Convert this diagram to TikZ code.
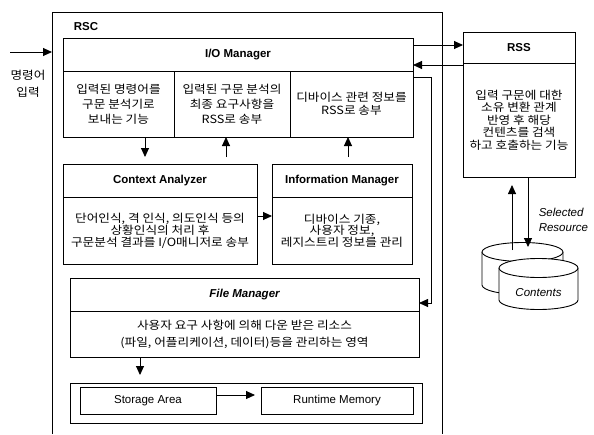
\documentclass[tikz,border=0pt]{standalone}
\usepackage{fontspec}
\setmainfont{Liberation Sans}
\newfontfamily\kor[FakeStretch=1.12]{Noto Sans CJK KR}
\usetikzlibrary{arrows.meta,positioning,calc}
\tikzset{
  hdr/.style={draw, inner sep=0pt, outer sep=0pt, minimum height=33pt, font=\bfseries\fontsize{11.5}{13}\selectfont},
  cell/.style={draw, inner sep=0pt, outer sep=0pt, align=center, font=\kor\fontsize{11.3}{#1}\selectfont},
  cell/.default=15,
  plain/.style={draw, inner sep=0pt, outer sep=0pt, minimum height=27pt, font=\fontsize{11.5}{13}\selectfont},
}

\begin{document}
\begin{tikzpicture}[x=1pt,y=-1pt,line width=0.9pt,>={Triangle[length=9pt,width=8pt]}]
  \useasboundingbox (0,0) rectangle (594,434);
  % RSC frame, open at the bottom
  \coordinate (rscW) at (52,12);
  \coordinate (rscE) at (442,12);
  \draw (rscW |- 0,434) -- (rscW) -- (rscE) -- (rscE |- 0,434);
  \node[font=\bfseries\fontsize{11.5}{13}\selectfont] (rsc) at (86,27) {RSC};
  \coordinate (inp) at (10,52);
  \draw[->] (inp) -- (inp -| rscW);
  \node[align=center, font=\kor\fontsize{11.3}{17}\selectfont] (cmd) at (28,84) {명령어\\입력};
%
  \node[hdr, minimum width=350pt] (io) at (238,54.5) {I/O Manager};
  \node[cell, minimum width=111pt, minimum height=66pt, below right=0pt and 0pt of io.south west] (io1) {입력된 명령어를\\구문 분석기로\\보내는 기능};
  \node[cell, minimum width=116pt, minimum height=66pt, right=0pt of io1] (io2) {입력된 구문 분석의\\최종 요구사항을\\RSS로 송부};
  \node[cell=13, minimum width=123pt, minimum height=66pt, right=0pt of io2] (io3) {디바이스 관련 정보를\\RSS로 송부};
%
  \node[hdr, minimum width=112pt, minimum height=31pt] (rss) at (519,47.5) {RSS};
  \node[cell=12.5, minimum width=112pt, minimum height=114pt, below=0pt of rss] (rssb) {입력 구문에 대한\\소유 변환 관계\\반영 후 해당\\컨텐츠를 검색\\하고 호출하는 기능};
%
  \node[hdr, minimum width=194pt] (ca) at (160,180.5) {Context Analyzer};
  \node[cell=11.5, minimum width=194pt, minimum height=67pt, below=0pt of ca] (cab) {단어인식, 격 인식, 의도인식 등의\\상황인식의 처리 후\\구문분석 결과를 I/O매니저로 송부};
  \node[hdr, minimum width=140pt] (im) at (342,180.5) {Information Manager};
  \node[cell=11.5, minimum width=140pt, minimum height=67pt, below=0pt of im] (imb) {디바이스 기종,\\사용자 정보,\\레지스트리 정보를 관리};
%
  \node[hdr, minimum width=349pt, font=\bfseries\itshape\fontsize{11.5}{13}\selectfont] (fm) at (244.5,294.5) {File Manager};
  \node[cell=17, minimum width=349pt, minimum height=46pt, below=0pt of fm] (fmb) {사용자 요구 사항에 의해 다운 받은 리소스\\(파일, 어플리케이션, 데이터)등을 관리하는 영역};
%
  \node[draw, minimum width=352pt, minimum height=40pt, inner sep=0pt, outer sep=0pt] (stor) at (246,403) {};
  \node[plain, minimum width=136pt] (sa) at (148,400.5) {Storage Area};
  \node[plain, minimum width=152pt] (rm) at (337,400.5) {Runtime Memory};
%
  % contents store
  \draw[fill=white] (482,252) -- (482,285) arc[start angle=180,end angle=0,x radius=40.5,y radius=9.5] -- (563,252);
  \draw[fill=white] (522.5,252) ellipse [x radius=40.5, y radius=9.5];
  \draw[fill=white] (499,268) -- (499,300) arc[start angle=180,end angle=0,x radius=39.5,y radius=9.5] -- (578,268);
  \draw[fill=white] (538.5,268) ellipse [x radius=39.5, y radius=9.5];
  \node[font=\itshape\fontsize{11.5}{13}\selectfont] (cont) at (538.5,293) {Contents};
  \coordinate (dbUp) at (512,250);
  \coordinate (dbDn) at (528,247);
  \node[align=left, anchor=west, font=\itshape\fontsize{11.5}{15}\selectfont] (sel) at (535,220) {Selected\\Resource};
%
  \coordinate (c1) at (145,0);
  \coordinate (c2) at (226,0);
  \coordinate (c3) at (348,0);
  \coordinate (r1) at (0,45);
  \coordinate (r2) at (0,65);
  \draw[->] (io.east |- r1) -- (rss.west |- r1);
  \draw[->] (rss.west |- r2) -- (io.east |- r2);
  \draw[->] (io3.east |- 0,77) -- (431,77) -- (431,303) -- (fm.east |- 0,303);
  \draw[->, shorten >=7pt] (io1.south -| c1) -- (ca.north -| c1);
  \draw[->, shorten <=7pt] (ca.north -| c2) -- (io2.south -| c2);
  \draw[->, shorten <=7pt] (im.north -| c3) -- (io3.south -| c3);
  \draw[->] (cab.east |- 0,216) -- (imb.west |- 0,216);
  \draw[->, shorten >=8pt] (fmb.south -| 140,0) -- (stor.north -| 140,0);
  \draw[->, shorten >=6pt] (sa.east |- 0,395) -- (rm.west |- 0,395);
  \draw[->, shorten >=8pt] (dbUp) -- (rssb.south -| dbUp);
  \draw[->] (rssb.south -| dbDn) -- (dbDn);
\end{tikzpicture}
\end{document}
